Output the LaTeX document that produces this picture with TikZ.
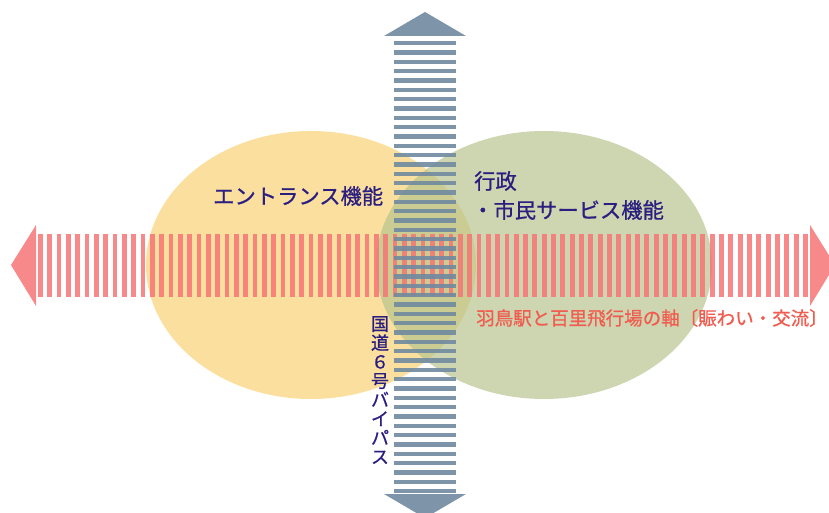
\documentclass[tikz,border=0pt]{standalone}
\usepackage{fontspec}
\newfontfamily\jpfont{Noto Sans CJK JP}[FakeBold=0.8]
\usepackage{tikz}
\usetikzlibrary{positioning}
\definecolor{entryyel}{RGB}{251,223,158}
\definecolor{civicgrn}{RGB}{184,196,142}
\definecolor{axispink}{RGB}{247,116,118}
\definecolor{roadgray}{RGB}{112,138,160}
\definecolor{labelnavy}{RGB}{42,30,128}
\definecolor{labelred}{RGB}{240,92,80}

\begin{document}
\begin{tikzpicture}[x=1pt,y=-1pt,font=\jpfont]
\useasboundingbox (0,0) rectangle (829,513);
\clip (0,0) rectangle (829,513);
\tikzset{hbar/.style={fill=axispink,opacity=0.85}}
\tikzset{vbar/.style={fill=roadgray,opacity=0.9}}
\tikzset{lbl/.style={text=labelnavy,inner sep=0pt,font=\jpfont\fontsize{21.3}{24}\selectfont}}
% zones
\fill[entryyel] (311,265) ellipse [x radius=165, y radius=134];
\fill[civicgrn,opacity=0.7] (544,265) ellipse [x radius=168, y radius=134];
% east-west axis
\foreach \i in {0,...,82}
  \fill[hbar] ({38+9.33*\i},234) rectangle +(4.8,63);
\fill[hbar] (36,225) -- (11,265) -- (36,306) -- cycle;
\fill[hbar] (810,225) -- (835,265) -- (810,306) -- cycle;
% route 6 bypass
\foreach \i in {0,...,48}
  \fill[vbar] (394,{41+9.33*\i}) rectangle +(62,4.5);
\fill[vbar] (384,36) -- (425,12) -- (466,36) -- cycle;
\fill[vbar] (384,494) -- (425,518) -- (466,494) -- cycle;
% labels
\node[lbl,anchor=west] (entrance) at (213,196) {エントランス機能};
\node[lbl,anchor=west] (admin) at (474,181) {行政};
\node[lbl,anchor=west] (civic) at (472,210) {・市民サービス機能};
\node[anchor=west,inner sep=0pt,text=labelred,font=\jpfont\fontsize{18.5}{20}\selectfont] (axis) at (476,318) {羽鳥駅と百里飛行場の軸〔賑わい・交流〕};
\node[anchor=north,inner sep=0pt,align=center,text=labelnavy,font=\jpfont\fontsize{18}{19}\selectfont] (route) at (380,316) {国\\道\\６\\号\\バ\\イ\\パ\\ス};
\end{tikzpicture}
\end{document}
